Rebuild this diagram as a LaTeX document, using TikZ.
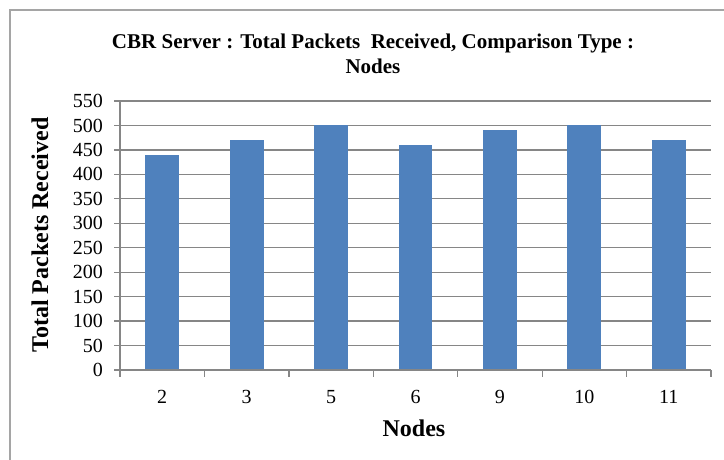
\documentclass[tikz,border=0pt]{standalone}
\usepackage{fontspec}
\setmainfont{Liberation Serif}
\definecolor{barblue}{HTML}{4F81BD}
\definecolor{gridgray}{HTML}{868686}
\definecolor{framegray}{HTML}{A5A5A5}
\tikzset{
  frameline/.style={draw=framegray, line width=2pt},
  gridline/.style={draw=gridgray, line width=1.3pt},
  axisline/.style={draw=gridgray, line width=1.3pt},
  databar/.style={fill=barblue, draw=none},
  ticklabel/.style={font=\fontsize{20}{20}\selectfont, inner sep=0pt},
  charttitle/.style={font=\bfseries\fontsize{21}{25}\selectfont, align=center, inner sep=0pt},
  axistitle/.style={font=\bfseries\fontsize{24}{24}\selectfont, inner sep=0pt},
}
\begin{document}
\begin{tikzpicture}[x=1pt, y=-1pt]
  \useasboundingbox (0,0) rectangle (724,460);
  \fill[white] (0,0) rectangle (724,460);
  % chart frame (top and left edges)
  \coordinate (fTL) at (10,10);
  \coordinate (fTR) at (724,10);
  \coordinate (fBL) at (10,460);
  \draw[frameline] (fTR) -- (fTL) -- (fBL);

  % plot area: x 120..711, value 0 at y=370, 550 at y=101
  \def\yscalefac{0.489091}
  \def\catw{84.43}
  % gridlines, y ticks and labels
  \foreach \val in {0,50,...,550} {
    \pgfmathsetmacro{\yy}{370-\val*\yscalefac}
    \coordinate (gL\val) at (120,\yy);
    \coordinate (gR\val) at (711,\yy);
    \coordinate (gT\val) at (114,\yy);
    \draw[gridline] (gT\val) -- (gR\val);
    \node[ticklabel, anchor=east] (yl\val) at (103,\yy) {\val};
  }
  % vertical axis
  \coordinate (axTop) at (120,101);
  \coordinate (axBot) at (120,370);
  \draw[axisline] (axTop) -- (axBot);
  % category ticks on the horizontal axis
  \foreach \i in {0,...,7} {
    \pgfmathsetmacro{\xx}{120+\i*\catw}
    \coordinate (ct\i) at (\xx,370);
    \coordinate (cb\i) at (\xx,377);
    \draw[axisline] (ct\i) -- (cb\i);
  }
  % bars and category labels
  \foreach \v/\lab [count=\i from 0] in {440/2,470/3,500/5,460/6,490/9,500/10,470/11} {
    \pgfmathsetmacro{\xc}{120+(\i+0.5)*\catw}
    \pgfmathsetmacro{\yt}{370-\v*\yscalefac}
    \fill[databar] (\xc-16.9,370) rectangle (\xc+16.9,\yt);
    \node[ticklabel] (xl\i) at (\xc,397) {\lab};
  }
  % horizontal axis drawn over the bar bottoms
  \draw[axisline] (gL0) -- (gR0);

  % titles
  \node[charttitle] (title) at (373,54) {CBR Server : Total Packets\ \ Received, Comparison Type :\\Nodes};
  \node[axistitle] (xtitle) at (414,428) {Nodes};
  \node[axistitle, rotate=90] (ytitle) at (40,235) {Total Packets Received};
\end{tikzpicture}
\end{document}
